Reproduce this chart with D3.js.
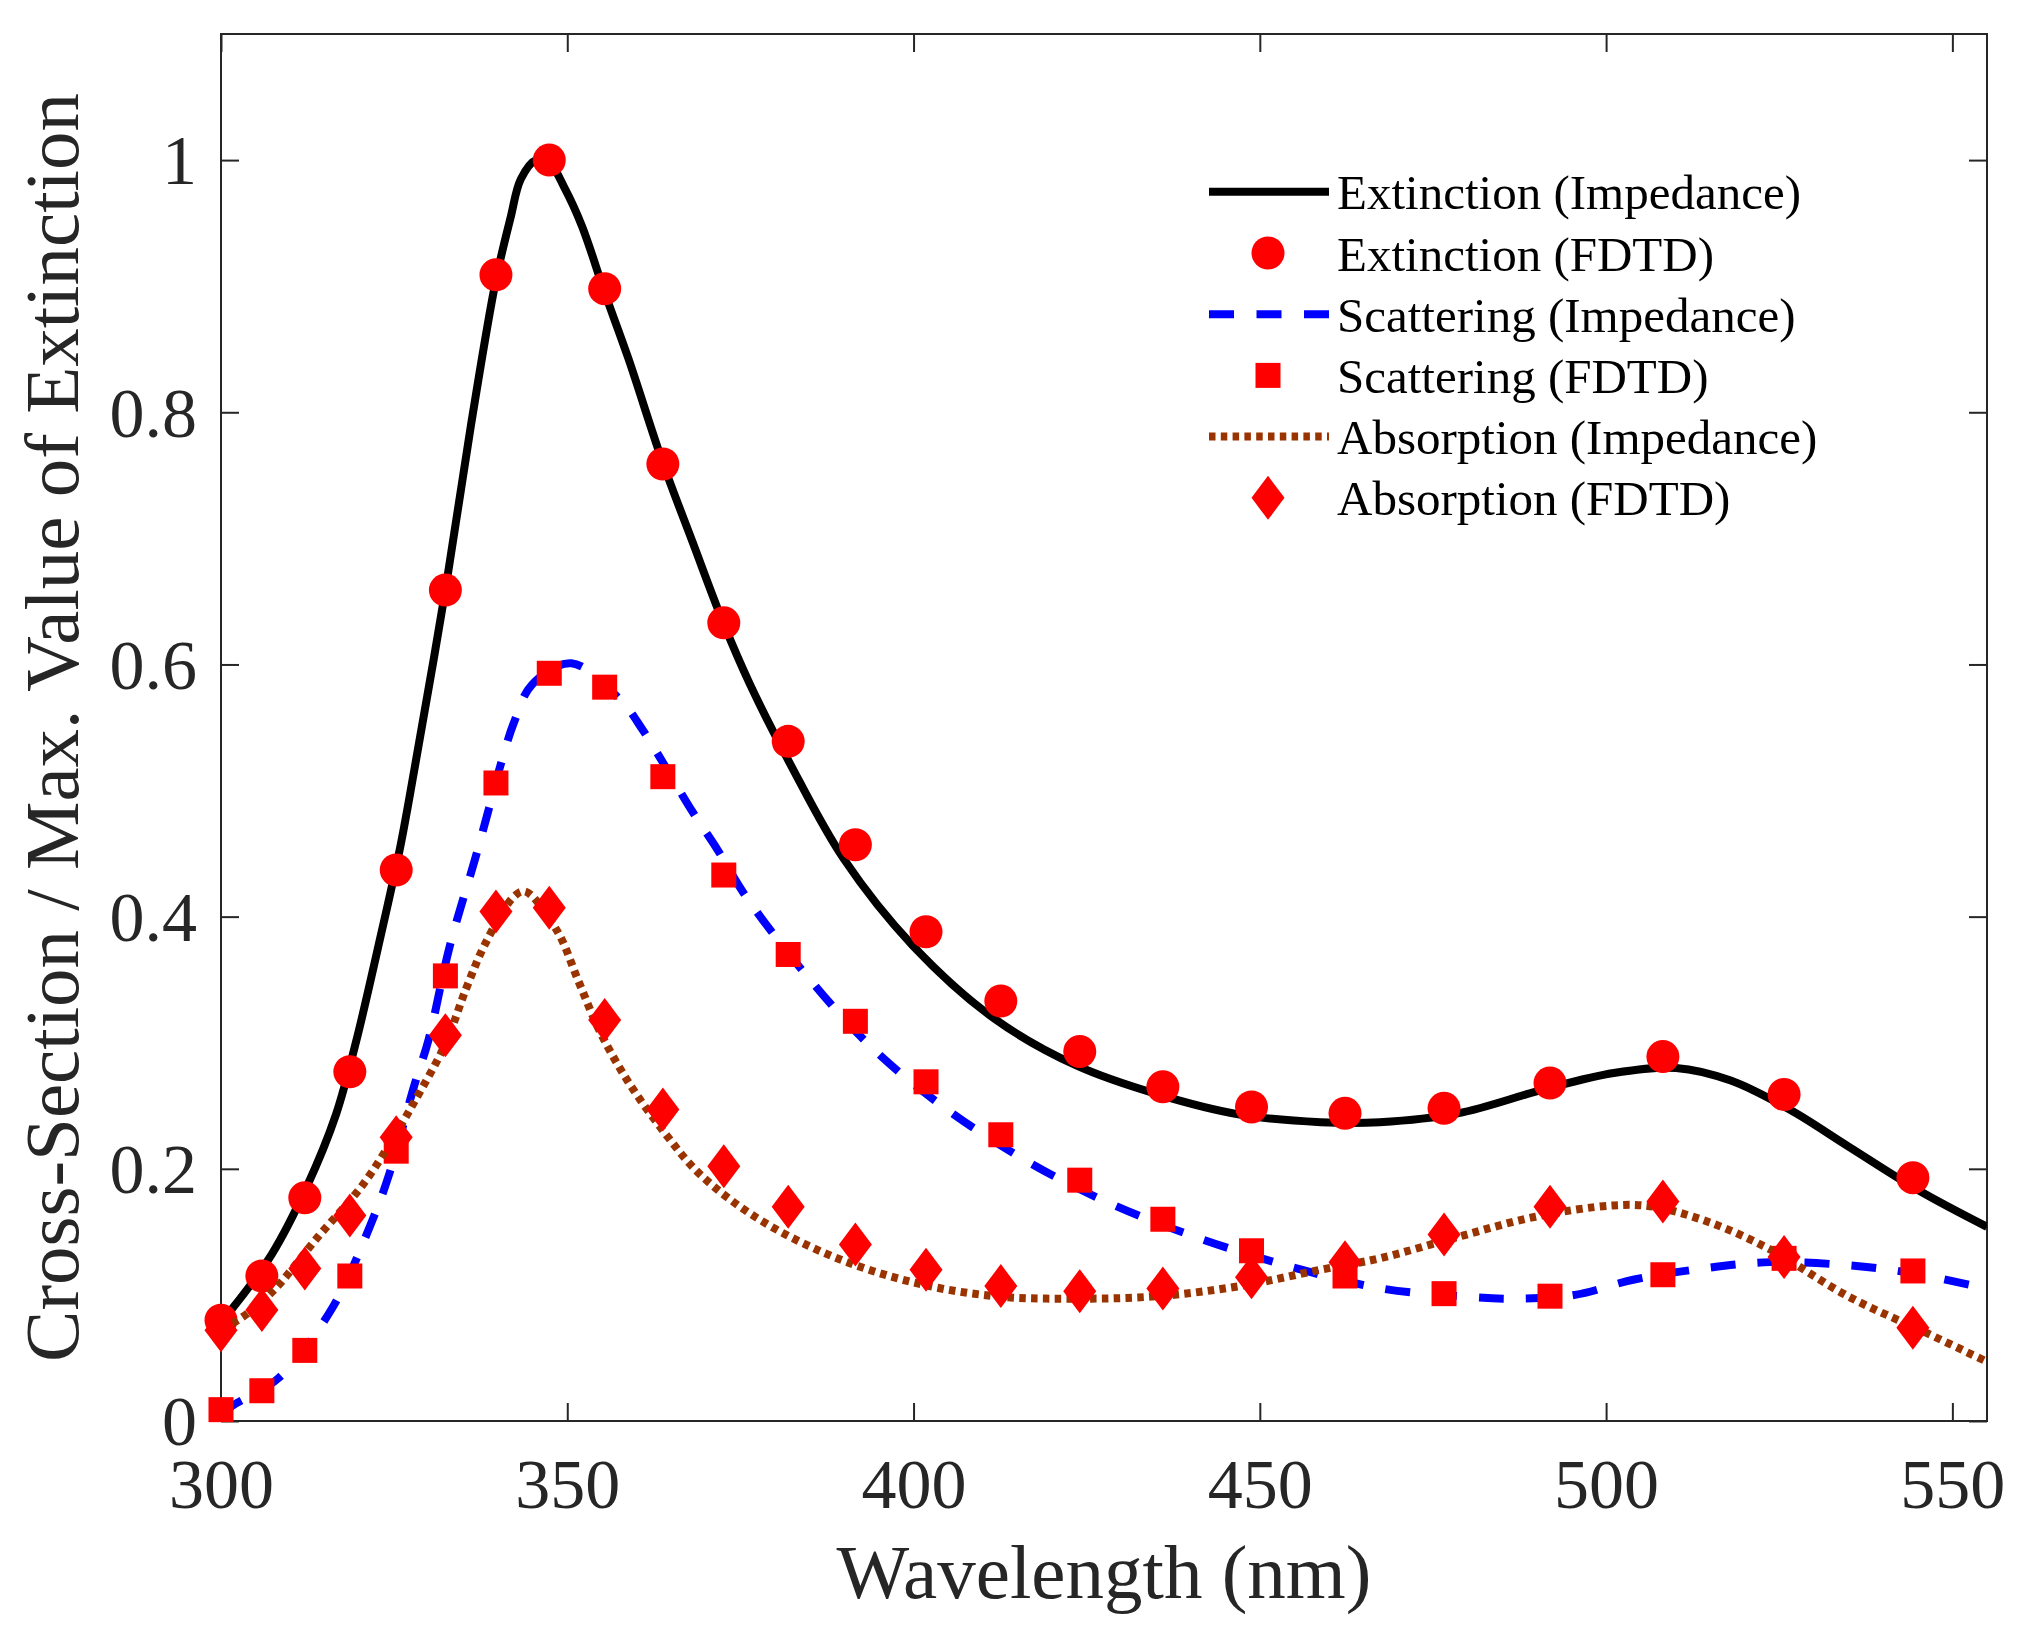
<!DOCTYPE html>
<html>
<head>
<meta charset="utf-8">
<script src="https://cdn.jsdelivr.net/npm/d3@7"></script>
<style>
  body { margin: 0; background: #fff; }
  text { font-family: "Liberation Serif", "Times New Roman", serif; fill: #262626; }
</style>
</head>
<body>
<div id="vis"></div>
<script>
// FDTD samples (markers)
const wlFDTD = [300.0, 305.9, 312.1, 318.6, 325.3, 332.4, 339.7, 347.4, 355.4, 363.8, 372.6, 381.9,
                391.6, 401.8, 412.6, 424.0, 436.0, 448.8, 462.3, 476.6, 491.9, 508.2, 525.7, 544.3];
const extFDTD = [0.080, 0.115, 0.177, 0.277, 0.437, 0.659, 0.909, 1.000, 0.898, 0.759, 0.633, 0.539,
                 0.457, 0.388, 0.333, 0.293, 0.265, 0.249, 0.244, 0.248, 0.268, 0.289, 0.259, 0.193];
const scaFDTD = [0.009, 0.024, 0.056, 0.115, 0.214, 0.353, 0.506, 0.593, 0.582, 0.511, 0.433, 0.370,
                 0.317, 0.269, 0.227, 0.191, 0.160, 0.135, 0.115, 0.101, 0.099, 0.116, 0.129, 0.119];
const absFDTD = [0.072, 0.088, 0.121, 0.163, 0.225, 0.306, 0.404, 0.407, 0.318, 0.247, 0.202, 0.170,
                 0.140, 0.120, 0.107, 0.103, 0.105, 0.114, 0.126, 0.148, 0.170, 0.174, 0.130, 0.074];

// impedance model (lines)
const wlExtImp = [300, 301.6, 307.3, 312.4, 316.6, 319.6, 322.7, 325.8, 327.9, 332.4, 336.1, 339.7, 341.8,
                  343.3, 345.5, 347.4, 349.6, 352.1, 355.4, 358.8, 363.8, 368.1, 372.6, 376.4, 382.2, 389.9,
                  399.9, 411.7, 423.5, 435.3, 447.1, 458.8, 467.3, 478.6, 491.0, 501.1, 510.1, 518.0, 526.5,
                  534.9, 545.1, 555.0];
const extImp = [0.079, 0.089, 0.132, 0.186, 0.243, 0.303, 0.376, 0.453, 0.516, 0.659, 0.790, 0.905, 0.954,
                0.985, 1.000, 0.998, 0.978, 0.948, 0.895, 0.843, 0.760, 0.697, 0.632, 0.584, 0.521, 0.446,
                0.377, 0.319, 0.282, 0.259, 0.243, 0.237, 0.237, 0.244, 0.263, 0.276, 0.280, 0.270, 0.247,
                0.218, 0.183, 0.154];
const wlScaImp = [300, 301.6, 308.3, 316.0, 321.7, 324.3, 327.9, 330.0, 333.0, 336.7, 338.7, 340.3, 342.3,
                  344.9, 350.6, 357.8, 360.9, 368.1, 371.7, 375.8, 384.6, 394.0, 404.6, 416.4, 428.2, 441.2,
                  454.7, 467.7, 478.6, 487.0, 495.5, 503.9, 514.1, 523.7, 533.8, 543.4, 555.0];
const scaImp = [0.005, 0.012, 0.034, 0.089, 0.157, 0.196, 0.266, 0.303, 0.376, 0.446, 0.486, 0.519, 0.554,
                0.584, 0.601, 0.571, 0.548, 0.483, 0.453, 0.416, 0.353, 0.296, 0.248, 0.206, 0.173, 0.145,
                0.122, 0.105, 0.099, 0.097, 0.100, 0.112, 0.121, 0.126, 0.124, 0.118, 0.105];
const wlAbsImp = [300, 302.1, 307.3, 314.0, 320.7, 325.8, 327.9, 332.4, 335.4, 338.2, 342.3, 343.9, 348.5,
                  351.6, 354.7, 358.8, 364.0, 369.1, 377.4, 388.1, 399.9, 411.7, 423.5, 435.3, 447.1, 458.8,
                  467.3, 478.6, 489.8, 501.1, 506.8, 515.2, 523.7, 534.9, 546.2, 555.0];
const absImp = [0.075, 0.079, 0.102, 0.146, 0.189, 0.233, 0.253, 0.299, 0.343, 0.379, 0.416, 0.420, 0.389,
                0.349, 0.309, 0.269, 0.229, 0.196, 0.161, 0.131, 0.110, 0.099, 0.097, 0.099, 0.107, 0.120,
                0.129, 0.146, 0.162, 0.171, 0.170, 0.157, 0.136, 0.099, 0.070, 0.047];

const xTicks = [300, 350, 400, 450, 500, 550];
const yTicks = [0, 0.2, 0.4, 0.6, 0.8, 1];
const legendLabels = ["Extinction (Impedance)", "Extinction (FDTD)", "Scattering (Impedance)",
                      "Scattering (FDTD)", "Absorption (Impedance)", "Absorption (FDTD)"];

let width = 2023, height = 1640;
let pLeft = 221, pRight = 1987, pTop = 34, pBottom = 1421;
let axisColor = "#262626";

let svg = d3.select("#vis").append("svg")
    .attr("width", width)
    .attr("height", height);

let x = d3.scaleLinear().domain([300, 555]).range([pLeft, pRight]);
let y = d3.scaleLinear().domain([0, 1.1]).range([pBottom, pTop]);

svg.append("clipPath").attr("id", "plotclip")
  .append("rect")
    .attr("x", pLeft).attr("y", pTop)
    .attr("width", pRight - pLeft).attr("height", pBottom - pTop);

// axes, ticks inside like matlab
let fmt = d3.format("~g");
let gx = svg.append("g").attr("transform", "translate(0," + pBottom + ")")
    .call(d3.axisBottom(x).tickValues(xTicks).tickSizeInner(-18).tickSizeOuter(0).tickFormat(fmt));
gx.selectAll("text").attr("y", 87).attr("dy", 0).style("font-size", "70px");

let gy = svg.append("g").attr("transform", "translate(" + pLeft + ",0)")
    .call(d3.axisLeft(y).tickValues(yTicks).tickSizeInner(-18).tickSizeOuter(0).tickFormat(fmt));
gy.selectAll("text").attr("x", -24).attr("dy", "0.34em").style("font-size", "70px");

let gt = svg.append("g").attr("transform", "translate(0," + pTop + ")")
    .call(d3.axisTop(x).tickValues(xTicks).tickSizeInner(-18).tickSizeOuter(0).tickFormat(""));
let gr = svg.append("g").attr("transform", "translate(" + pRight + ",0)")
    .call(d3.axisRight(y).tickValues(yTicks).tickSizeInner(-18).tickSizeOuter(0).tickFormat(""));

[gx, gy, gt, gr].forEach(function(g){
  g.select(".domain").remove();
  g.selectAll(".tick line").attr("stroke", axisColor).attr("stroke-width", 2);
  g.selectAll("text").attr("fill", axisColor)
    .style("font-family", "'Liberation Serif', 'Times New Roman', serif");
});

svg.append("rect")
    .attr("x", pLeft).attr("y", pTop)
    .attr("width", pRight - pLeft).attr("height", pBottom - pTop)
    .attr("fill", "none")
    .attr("stroke", axisColor)
    .attr("stroke-width", 2);

// axis titles
svg.append("text")
    .attr("x", (pLeft + pRight) / 2)
    .attr("y", 1598)
    .attr("text-anchor", "middle")
    .style("font-size", "77px")
    .text("Wavelength (nm)");

svg.append("text")
    .attr("transform", "translate(78," + (pTop + pBottom) / 2 + ")rotate(-90)")
    .attr("text-anchor", "middle")
    .style("font-size", "77px")
    .text("Cross-Section / Max. Value of Extinction");

// curves + markers
let line = d3.line()
    .x(d => x(d[0]))
    .y(d => y(d[1]))
    .curve(d3.curveCatmullRom.alpha(0.5));

let diamond = "M0,-22L16.5,0L0,22L-16.5,0Z";

function drawLine(wl, vals, color, dash){
  svg.append("path")
      .datum(d3.zip(wl, vals))
      .attr("clip-path", "url(#plotclip)")
      .attr("d", line)
      .attr("fill", "none")
      .attr("stroke", color)
      .attr("stroke-width", 8)
      .attr("stroke-dasharray", dash);
}

function drawMarkers(vals, kind){
  let g = svg.append("g");
  let pts = d3.zip(wlFDTD, vals);
  if(kind == "circle"){
    g.selectAll("circle").data(pts).enter().append("circle")
      .attr("cx", d => x(d[0])).attr("cy", d => y(d[1]))
      .attr("r", 16.5).attr("fill", "#ff0000");
  }else if(kind == "square"){
    g.selectAll("rect").data(pts).enter().append("rect")
      .attr("x", d => x(d[0]) - 12.5).attr("y", d => y(d[1]) - 12.5)
      .attr("width", 25).attr("height", 25).attr("fill", "#ff0000");
  }else{
    g.selectAll("path").data(pts).enter().append("path")
      .attr("d", diamond)
      .attr("transform", d => "translate(" + x(d[0]) + "," + y(d[1]) + ")")
      .attr("fill", "#ff0000");
  }
}

drawLine(wlExtImp, extImp, "#000000", null);
drawMarkers(extFDTD, "circle");
drawLine(wlScaImp, scaImp, "#0000ff", "25,22");
drawMarkers(scaFDTD, "square");
drawLine(wlAbsImp, absImp, "#993300", "6.5,5.3");
drawMarkers(absFDTD, "diamond");

// legend (no box)
let legX0 = 1209, legX1 = 1329, legMid = 1268, legTextX = 1337, legBase = 209.3, legStep = 61.2;
let legStyles = [
  {type: "line", color: "#000000", dash: null},
  {type: "circle"},
  {type: "line", color: "#0000ff", dash: "25,22.5"},
  {type: "square"},
  {type: "line", color: "#993300", dash: "6.5,5.3"},
  {type: "diamond"}
];
legendLabels.forEach(function(lab, i){
  let base = legBase + i * legStep;
  let cy = base - 17.5;
  let s = legStyles[i];
  if(s.type == "line"){
    svg.append("line")
      .attr("x1", legX0).attr("x2", legX1).attr("y1", cy).attr("y2", cy)
      .attr("stroke", s.color).attr("stroke-width", 8)
      .attr("stroke-dasharray", s.dash);
  }else if(s.type == "circle"){
    svg.append("circle").attr("cx", legMid).attr("cy", cy).attr("r", 16.5).attr("fill", "#ff0000");
  }else if(s.type == "square"){
    svg.append("rect").attr("x", legMid - 12.5).attr("y", cy - 12.5)
      .attr("width", 25).attr("height", 25).attr("fill", "#ff0000");
  }else{
    svg.append("path").attr("d", diamond)
      .attr("transform", "translate(" + legMid + "," + cy + ")").attr("fill", "#ff0000");
  }
  svg.append("text")
    .attr("x", legTextX).attr("y", base)
    .style("font-size", "49px")
    .style("fill", "#000000")
    .text(lab);
});
</script>
</body>
</html>
